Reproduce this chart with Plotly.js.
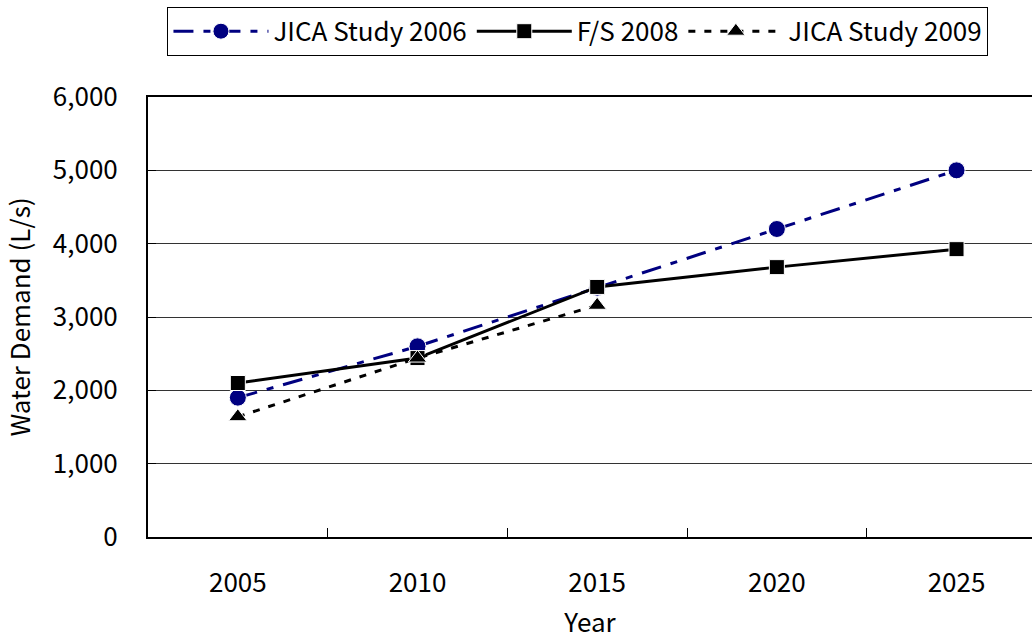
<!DOCTYPE html>
<html><head><meta charset="utf-8">
<script src="https://cdn.plot.ly/plotly-3.0.1.min.js"></script>
<style>html,body{margin:0;padding:0;background:#fff}</style>
</head><body>
<div id="chart" style="width:1032px;height:639px"></div>
<script>
var years = ["2005", "2010", "2015", "2020", "2025"];
var jica2006 = [1900, 2600, 3400, 4200, 5000];
var fs2008 = [2100, 2440, 3410, 3680, 3925];
var jica2009 = [1640, 2440, 3160, null, null];
var yTicks = [0, 1000, 2000, 3000, 4000, 5000, 6000];
var yTickText = ["0", "1,000", "2,000", "3,000", "4,000", "5,000", "6,000"];

var FONT = "Noto Sans CJK JP, Noto Sans, sans-serif";

var traces = [
  {x: years, y: jica2006, name: "JICA Study 2006", type: "scatter", mode: "lines+markers",
   line: {color: "#000080", width: 3, dash: "20px,10px,7px,10px"},
   marker: {symbol: "circle", size: 17, color: "#000080", line: {color: "#fff", width: 1}}},
  {x: years, y: fs2008, name: "F/S 2008", type: "scatter", mode: "lines+markers",
   line: {color: "#000", width: 3, dash: "solid"},
   marker: {symbol: "square", size: 15, color: "#000", line: {color: "#fff", width: 1}}},
  {x: years, y: jica2009, name: "JICA Study 2009", type: "scatter", mode: "lines+markers",
   line: {color: "#000", width: 3, dash: "7px,9px"},
   marker: {symbol: "triangle-up", size: 16, color: "#000", line: {color: "#fff", width: 1}}}
];

var layout = {
  width: 1032, height: 639,
  margin: {l: 148, r: 0, t: 97, b: 102},
  paper_bgcolor: "#fff", plot_bgcolor: "#fff",
  font: {family: FONT, size: 26, color: "#000"},
  showlegend: true,
  legend: {orientation: "h", x: 0.022, y: 1.205, xanchor: "left", yanchor: "top",
           bordercolor: "#000", borderwidth: 1, bgcolor: "#fff",
           font: {family: FONT, size: 26, color: "#000"}, itemwidth: 95},
  xaxis: {type: "category", tickson: "boundaries", ticks: "inside", ticklen: 9, tickcolor: "#000",
          showline: true, linecolor: "#000", linewidth: 2, mirror: true, showgrid: false, zeroline: false,
          tickfont: {family: FONT, size: 26}, ticklabelstandoff: 22,
          title: {text: "Year", font: {family: FONT, size: 26}, standoff: 20},
          range: [-0.5, 4.42]},
  yaxis: {range: [0, 6000], tickvals: yTicks, ticktext: yTickText, ticks: "inside", ticklen: 8,
          tickcolor: "#000", showline: true, linecolor: "#000", linewidth: 2, mirror: false,
          showgrid: true, gridcolor: "#333", gridwidth: 1, zeroline: false,
          tickfont: {family: FONT, size: 26}, ticklabelstandoff: 23,
          title: {text: "Water Demand (L/s)", font: {family: FONT, size: 26}, standoff: 16}}
};

Plotly.newPlot("chart", traces, layout, {displayModeBar: false, staticPlot: true});
</script>
</body></html>
